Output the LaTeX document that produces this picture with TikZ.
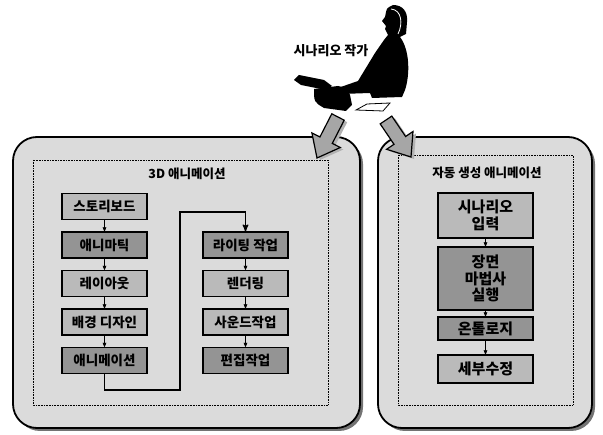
\documentclass[tikz,border=0pt]{standalone}
\usepackage{fontspec}
\newfontfamily\kr{Noto Sans CJK KR}
\usetikzlibrary{arrows,shadows}

\begin{document}
\begin{tikzpicture}[x=1pt,y=-1pt,>=stealth',semithick,node distance=38.5pt]
\tikzstyle{panel}=[draw=black,line width=1.8pt,rounded corners=24pt,fill=black!14,
  drop shadow={shadow xshift=3pt,shadow yshift=-3pt,fill=black!55,opacity=1}]
\tikzstyle{work}=[draw=black,line width=1.2pt,fill=black!27,minimum width=85pt,minimum height=26pt,
  inner sep=0pt,font=\kr\bfseries\fontsize{13.5}{15}\selectfont]
\tikzstyle{workdark}=[work,fill=black!42]
\tikzstyle{autobox}=[draw=black,line width=1.2pt,fill=black!27,minimum width=95pt,inner sep=0pt,
  align=center,font=\kr\bfseries\fontsize{15}{16.5}\selectfont]
\tikzstyle{autodark}=[autobox,fill=black!42]
\tikzstyle{title}=[font=\kr\bfseries\fontsize{12.5}{14}\selectfont]
\tikzstyle{bigarrow}=[draw=black,line width=1.2pt,fill=black!35,
  drop shadow={shadow xshift=3pt,shadow yshift=-2pt,fill=black!30,opacity=1}]
\useasboundingbox (0,0) rectangle (603,435);

% the two panels
\draw[panel] (13,137) rectangle (360,428);
\draw[panel] (378,137) rectangle (592,428);
\draw[densely dotted] (33,160) rectangle (328,405);
\draw[densely dotted] (398,155) rectangle (573,405);
\node[title] (T3) at (187,174) {3D 애니메이션};
\node[title] (TA) at (487,173) {자동 생성 애니메이션};

% 3D pipeline
\node[work] (SB) at (104.5,206.5) {스토리보드};
\node[workdark,below of=SB] (AM) {애니마틱};
\node[work,below of=AM] (LO) {레이아웃};
\node[work,below of=LO] (BG) {배경 디자인};
\node[workdark,below of=BG] (AN) {애니메이션};
\node[workdark,node distance=141pt,right of=AM] (LT) {라이팅 작업};
\node[work,below of=LT] (RD) {렌더링};
\node[work,below of=RD] (SD) {사운드작업};
\node[workdark,below of=SD] (ED) {편집작업};
\path[->] (SB) edge (AM)
          (AM) edge (LO)
          (LO) edge (BG)
          (BG) edge (AN)
          (LT) edge (RD)
          (RD) edge (SD)
          (SD) edge (ED);
\coordinate (c1) at (180,390);
\coordinate (c2) at (180,212);
\draw[->,line width=1.4pt] (AN) |- (c1) -- (c2) -| (LT);

% automatic pipeline
\node[autobox,minimum height=45pt] (SC) at (485.5,215.5) {시나리오\\입력};
\node[autodark,minimum height=63pt,node distance=63pt,below of=SC] (SW) {장면\\마법사\\실행};
\node[autodark,minimum height=23pt,node distance=50pt,below of=SW] (ON) {온톨로지};
\node[autobox,minimum height=28pt,node distance=40.5pt,below of=ON] (FX) {세부수정};
\path[->] (SC) edge (SW)
          (SW) edge (ON)
          (ON) edge (FX);

% writer at the typewriter
\fill[black] (393,5) .. controls (403,5) and (408,12) .. (407,22) -- (406,34) -- (400,37)
  .. controls (410,50) and (410,75) .. (405,90) -- (402,97) -- (372,98) -- (370,93) -- (341,94)
  -- (335,89) -- (358,81) -- (375,53) -- (384,40) -- (388,35) -- (385,29) -- (386,26)
  -- (382,21) -- (385,17) -- (386,12) .. controls (387,8) .. cycle;
\draw[white,line width=0.8pt] (391,9) .. controls (402,10) and (403,24) .. (398,34);
\fill[black] (294,80) -- (299,75) -- (324,80) -- (332,86) -- (326,90) -- (301,85) -- cycle;
\fill[black] (314,89) -- (338,86) .. controls (347,88) .. (350,95) -- (352,105) -- (346,111)
  -- (324,108) .. controls (314,102) .. cycle;
\draw[fill=white,line width=0.8pt] (356,110) -- (367,104) -- (390,103) -- (383,111) -- cycle;
\node[font=\kr\bfseries\fontsize{13}{15}\selectfont] (WR) at (331,51) {시나리오 작가};

% block arrows into the panels
\draw[bigarrow] (344.2,120.2) -- (332.3,143.4) -- (340.3,147.5) -- (317,158) -- (311.9,132.9)
  -- (319.9,137.0) -- (331.8,113.8) -- cycle;
\draw[bigarrow] (391.8,116.1) -- (405.6,136.5) -- (413.0,131.5) -- (411,157) -- (386.6,149.3)
  -- (394.0,144.3) -- (380.2,123.9) -- cycle;
\end{tikzpicture}
\end{document}
